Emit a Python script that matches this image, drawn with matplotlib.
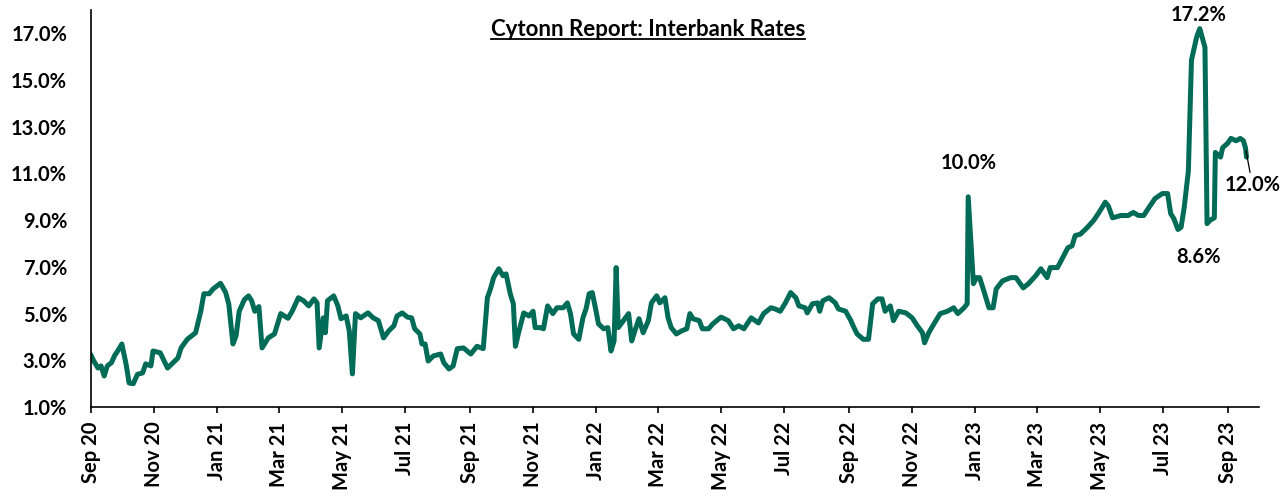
import numpy as np
import pandas as pd
import matplotlib
matplotlib.use('Agg')
import matplotlib.pyplot as plt
import matplotlib.dates as mdates
from matplotlib.ticker import FuncFormatter

plt.rcParams['font.family'] = ['Lato', 'DejaVu Sans']
plt.rcParams['font.weight'] = 'bold'

# 读图估计的银行间利率 (%)
dates = [
    '2020-09-01', '2020-09-04', '2020-09-08', '2020-09-11', '2020-09-14', '2020-09-17', '2020-09-21',
    '2020-09-24', '2020-09-27', '2020-10-01', '2020-10-05', '2020-10-08', '2020-10-12', '2020-10-16',
    '2020-10-21', '2020-10-24', '2020-10-29', '2020-10-31', '2020-11-07', '2020-11-14', '2020-11-24',
    '2020-11-27', '2020-12-03', '2020-12-11', '2020-12-16', '2020-12-19', '2020-12-24', '2020-12-28',
    '2021-01-04', '2021-01-09', '2021-01-12', '2021-01-16', '2021-01-19', '2021-01-22', '2021-01-27',
    '2021-01-31', '2021-02-03', '2021-02-06', '2021-02-10', '2021-02-13', '2021-02-19', '2021-02-25',
    '2021-03-03', '2021-03-10', '2021-03-14', '2021-03-20', '2021-03-25', '2021-03-30', '2021-04-04',
    '2021-04-07', '2021-04-09', '2021-04-13', '2021-04-15', '2021-04-17', '2021-04-23', '2021-04-27',
    '2021-04-30', '2021-05-05', '2021-05-08', '2021-05-11', '2021-05-14', '2021-05-19', '2021-05-26',
    '2021-05-31', '2021-06-05', '2021-06-10', '2021-06-15', '2021-06-20', '2021-06-23', '2021-06-28',
    '2021-07-03', '2021-07-07', '2021-07-10', '2021-07-15', '2021-07-17', '2021-07-20', '2021-07-23',
    '2021-07-28', '2021-08-04', '2021-08-07', '2021-08-12', '2021-08-16', '2021-08-20', '2021-08-26',
    '2021-09-02', '2021-09-08', '2021-09-14', '2021-09-18', '2021-09-21', '2021-09-24', '2021-09-29',
    '2021-10-03', '2021-10-06', '2021-10-10', '2021-10-13', '2021-10-15', '2021-10-18', '2021-10-23',
    '2021-10-28', '2021-11-01', '2021-11-03', '2021-11-08', '2021-11-11', '2021-11-15', '2021-11-20',
    '2021-11-24', '2021-11-30', '2021-12-04', '2021-12-07', '2021-12-10', '2021-12-15', '2021-12-19',
    '2021-12-22', '2021-12-25', '2021-12-28', '2021-12-31', '2022-01-03', '2022-01-08', '2022-01-12',
    '2022-01-15', '2022-01-18', '2022-01-20', '2022-01-22', '2022-01-27', '2022-02-01', '2022-02-04',
    '2022-02-07', '2022-02-11', '2022-02-15', '2022-02-20', '2022-02-23', '2022-02-28', '2022-03-03',
    '2022-03-08', '2022-03-11', '2022-03-14', '2022-03-19', '2022-03-24', '2022-03-29', '2022-04-01',
    '2022-04-04', '2022-04-10', '2022-04-13', '2022-04-19', '2022-04-23', '2022-05-01', '2022-05-08',
    '2022-05-13', '2022-05-18', '2022-05-23', '2022-05-30', '2022-06-06', '2022-06-11', '2022-06-18',
    '2022-06-22', '2022-06-27', '2022-07-02', '2022-07-07', '2022-07-12', '2022-07-15', '2022-07-21',
    '2022-07-23', '2022-07-28', '2022-08-02', '2022-08-04', '2022-08-07', '2022-08-13', '2022-08-19',
    '2022-08-22', '2022-08-29', '2022-09-03', '2022-09-06', '2022-09-09', '2022-09-15', '2022-09-20',
    '2022-09-24', '2022-09-29', '2022-10-03', '2022-10-06', '2022-10-11', '2022-10-14', '2022-10-19',
    '2022-10-26', '2022-11-01', '2022-11-06', '2022-11-11', '2022-11-13', '2022-11-17', '2022-11-22',
    '2022-11-28', '2022-12-05', '2022-12-11', '2022-12-15', '2022-12-21', '2022-12-24', '2022-12-25',
    '2022-12-30', '2023-01-02', '2023-01-05', '2023-01-09', '2023-01-14', '2023-01-18', '2023-01-21',
    '2023-01-27', '2023-02-04', '2023-02-09', '2023-02-16', '2023-02-21', '2023-02-28', '2023-03-05',
    '2023-03-11', '2023-03-14', '2023-03-21', '2023-03-26', '2023-03-31', '2023-04-04', '2023-04-07',
    '2023-04-12', '2023-04-19', '2023-04-25', '2023-04-30', '2023-05-06', '2023-05-09', '2023-05-13',
    '2023-05-21', '2023-05-28', '2023-06-02', '2023-06-07', '2023-06-12', '2023-06-17', '2023-06-23',
    '2023-06-30', '2023-07-05', '2023-07-08', '2023-07-11', '2023-07-15', '2023-07-18', '2023-07-21',
    '2023-07-25', '2023-07-28', '2023-08-02', '2023-08-05', '2023-08-10', '2023-08-12', '2023-08-15',
    '2023-08-19', '2023-08-20', '2023-08-25', '2023-08-27', '2023-09-01', '2023-09-04', '2023-09-09',
    '2023-09-13', '2023-09-16', '2023-09-18', '2023-09-19',
]
rates = [
    3.25, 2.97, 2.67, 2.76, 2.33, 2.76, 2.90,
    3.20, 3.40, 3.70, 2.85, 2.03, 2.00, 2.40,
    2.46, 2.85, 2.76, 3.40, 3.32, 2.67, 3.10,
    3.53, 3.90, 4.18, 5.10, 5.85, 5.85, 6.06,
    6.30, 5.90, 5.40, 3.70, 4.05, 5.10, 5.60,
    5.76, 5.55, 5.10, 5.30, 3.53, 3.96, 4.13,
    5.00, 4.80, 5.10, 5.68, 5.55, 5.33, 5.63,
    5.46, 3.53, 4.82, 4.18, 5.55, 5.76, 5.33,
    4.78, 4.90, 4.26, 2.42, 5.00, 4.82, 5.03,
    4.82, 4.70, 3.96, 4.26, 4.48, 4.90, 5.03,
    4.85, 4.82, 4.35, 4.13, 3.70, 3.70, 2.97,
    3.19, 3.27, 2.90, 2.63, 2.76, 3.50, 3.53,
    3.27, 3.60, 3.50, 5.68, 6.06, 6.54, 6.92,
    6.62, 6.70, 5.85, 5.42, 3.60, 4.18, 5.03,
    4.90, 5.10, 4.40, 4.40, 4.35, 5.33, 5.00,
    5.25, 5.25, 5.46, 5.00, 4.13, 3.90, 4.82,
    5.20, 5.85, 5.90, 5.25, 4.56, 4.35, 4.40,
    3.40, 3.83, 6.97, 4.40, 4.70, 5.00, 3.83,
    4.26, 4.78, 4.18, 4.70, 5.46, 5.76, 5.46,
    5.68, 4.82, 4.40, 4.13, 4.26, 4.35, 5.00,
    4.78, 4.70, 4.35, 4.35, 4.56, 4.85, 4.70,
    4.35, 4.48, 4.35, 4.82, 4.60, 5.00, 5.25,
    5.20, 5.10, 5.46, 5.90, 5.68, 5.33, 5.25,
    5.03, 5.42, 5.46, 5.10, 5.55, 5.68, 5.46,
    5.20, 5.10, 4.70, 4.40, 4.13, 3.90, 3.90,
    5.42, 5.63, 5.63, 5.10, 5.33, 4.70, 5.10,
    5.03, 4.82, 4.48, 4.18, 3.75, 4.18, 4.56,
    5.00, 5.10, 5.25, 5.00, 5.25, 5.42, 10.00,
    6.28, 6.54, 6.54, 5.98, 5.25, 5.25, 6.06,
    6.40, 6.54, 6.54, 6.10, 6.28, 6.62, 6.92,
    6.54, 6.97, 6.97, 7.40, 7.82, 7.90, 8.34,
    8.40, 8.70, 9.00, 9.33, 9.77, 9.60, 9.10,
    9.20, 9.20, 9.33, 9.20, 9.20, 9.54, 9.93,
    10.14, 10.14, 9.28, 9.07, 8.60, 8.70, 9.54,
    11.10, 15.85, 16.84, 17.20, 16.40, 8.85, 9.00,
    9.10, 11.90, 11.70, 12.10, 12.30, 12.50, 12.40,
    12.50, 12.40, 12.10, 11.70,
]
dates = pd.to_datetime(dates)
rates = np.array(rates)

green = '#006B57'
fs = 14.5

fig = plt.figure(figsize=(12.81, 4.97), dpi=100)
ax = fig.add_axes([0.0708, 0.181, 0.912, 0.799])
ax.plot(dates, rates, color=green, lw=3.6, solid_joinstyle='round', solid_capstyle='round')

ax.set_ylim(1, 18)
ax.set_yticks(np.arange(1, 18, 2))
ax.yaxis.set_major_formatter(FuncFormatter(lambda v, p: f'{v:.1f}%'))
ax.set_xlim(pd.Timestamp('2020-09-01'), pd.Timestamp('2023-10-01'))
ax.xaxis.set_major_locator(mdates.MonthLocator(bymonth=[1, 3, 5, 7, 9, 11]))
ax.xaxis.set_major_formatter(mdates.DateFormatter('%b %y'))

for s in ['top', 'right']:
    ax.spines[s].set_visible(False)
for s in ['left', 'bottom']:
    ax.spines[s].set_linewidth(1.2)
    ax.spines[s].set_color('black')
ax.tick_params(axis='y', length=0, pad=17, labelsize=fs)
ax.tick_params(axis='x', length=4.5, width=1.2, pad=6, labelsize=fs, labelrotation=90)
for lab in ax.get_xticklabels() + ax.get_yticklabels():
    lab.set_fontweight('bold')

# 标注
lbl = dict(fontsize=fs, fontweight='bold', ha='center', va='center', textcoords='offset points')
ax.annotate('17.2%', xy=(pd.Timestamp('2023-08-04'), 17.2), xytext=(0, 10), **lbl)
ax.annotate('10.0%', xy=(pd.Timestamp('2022-12-25'), 10.0), xytext=(0, 24), **lbl)
ax.annotate('8.6%', xy=(pd.Timestamp('2023-07-15'), 8.6), xytext=(15, -20), **lbl)
ax.annotate('12.0%', xy=(pd.Timestamp('2023-09-18'), 12.1), xytext=(5, -27), **lbl,
            arrowprops=dict(arrowstyle='-', color='black', lw=0.9, shrinkA=0, shrinkB=2))

# 标题（带下划线）
t = fig.text(0.506, 0.94, 'Cytonn Report: Interbank Rates', ha='center', va='center',
             fontsize=16, fontweight='bold')
fig.canvas.draw()
bb = t.get_window_extent().transformed(fig.transFigure.inverted())
fig.add_artist(plt.Line2D([bb.x0, bb.x1], [bb.y0 + 0.002, bb.y0 + 0.002], color='black', lw=1.3))

fig.savefig('out.png', dpi=100)
